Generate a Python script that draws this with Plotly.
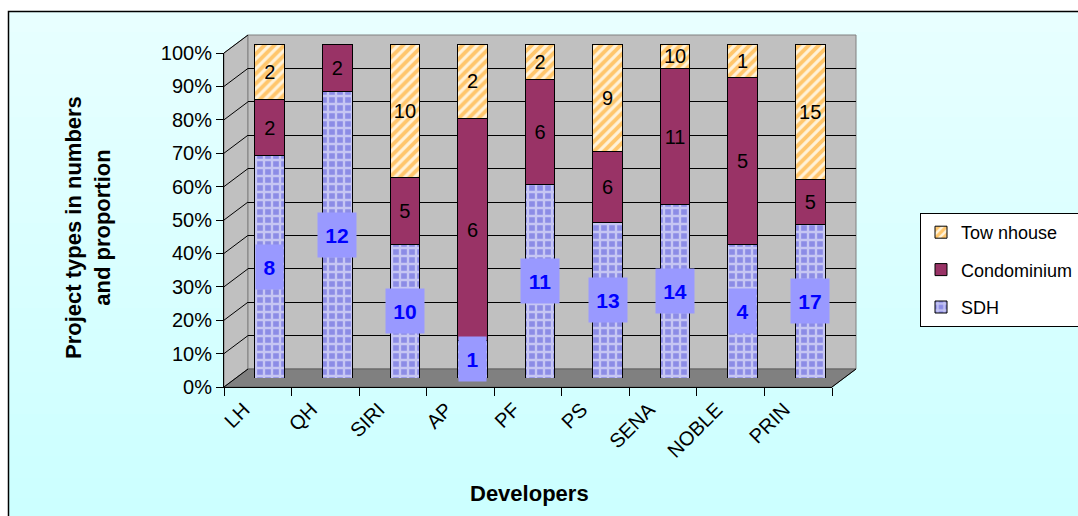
import plotly.graph_objects as go
import numpy as np

# ---------------- data ----------------
developers = ["LH", "QH", "SIRI", "AP", "PF", "PS", "SENA", "NOBLE", "PRIN"]
sdh = [8, 12, 10, 1, 11, 13, 14, 4, 17]
condominium = [2, 2, 5, 6, 6, 6, 11, 5, 5]
townhouse = [2, 0, 10, 2, 2, 9, 2, 1, 15]          # segment heights
townhouse_labels = ["2", "", "10", "2", "2", "9", "10", "1", "15"]  # labels printed on the chart
condominium_labels = ["2", "2", "5", "6", "6", "6", "11", "5", "5"]
sdh_labels = ["8", "12", "10", "1", "11", "13", "14", "4", "17"]
pct_ticks = [0, 10, 20, 30, 40, 50, 60, 70, 80, 90, 100]
pct_ticktext = [f"{t}%" for t in pct_ticks]

# ---------------- geometry (pixels) ----------------
W, H = 1078, 516
FX0, FX1, FY0, FY1 = 224, 832, 387, 53     # front axes box
DX, DY = 24, -18                            # 3-D depth offset
def px(x): return x / W
def py(y): return 1 - y / H

FONT = "Arial, Liberation Sans, sans-serif"

fig = go.Figure()

# dummy traces to create wall subplot (xy) and front-axes subplot (x2y2)
fig.add_trace(go.Scatter(x=[None], y=[None], xaxis="x", yaxis="y",
                         showlegend=False, hoverinfo="skip"))
fig.add_trace(go.Scatter(x=developers, y=[None] * len(developers), xaxis="x2", yaxis="y2",
                         mode="markers", marker=dict(opacity=0),
                         showlegend=False, hoverinfo="skip"))

# bars on x3/y3 (drawn last -> on top)
fig.add_trace(go.Bar(
    x=developers, y=sdh, name="SDH", xaxis="x3", yaxis="y3",
    legendgroup="sdh", legendrank=3,
    marker=dict(color="#8C8CE6", line=dict(color="black", width=1),
                pattern=dict(shape="+", fgcolor="white", bgcolor="#8C8CE6",
                             size=8, solidity=0.5)),
))
fig.add_trace(go.Bar(
    x=developers, y=condominium, name="Condominium", xaxis="x3", yaxis="y3",
    legendgroup="condo", legendrank=2,
    text=condominium_labels, textposition="inside", insidetextanchor="middle",
    textfont=dict(color="black", size=20, family=FONT), textangle=0,
    marker=dict(color="#993366", line=dict(color="black", width=1)),
))
fig.add_trace(go.Bar(
    x=developers, y=townhouse, name="Tow nhouse", xaxis="x3", yaxis="y3",
    legendgroup="town", legendrank=1,
    text=townhouse_labels, textposition="inside", insidetextanchor="middle",
    textfont=dict(color="black", size=20, family=FONT), textangle=0,
    marker=dict(color="#FFF2D9", line=dict(color="black", width=1),
                pattern=dict(shape="/", fgcolor="#FF9900", bgcolor="#FFF2D9",
                             size=7, solidity=0.55)),
))

# ---------------- decorative shapes ----------------
shapes = []
n_strips = 24
top_c = np.array([232, 255, 255]); bot_c = np.array([204, 255, 255])
y_top, y_bot = 11, 520
for i in range(n_strips):
    c = top_c + (bot_c - top_c) * i / (n_strips - 1)
    ya = y_top + (y_bot - y_top) * i / n_strips
    yb = y_top + (y_bot - y_top) * (i + 1) / n_strips + 1
    shapes.append(dict(type="rect", xref="paper", yref="paper", layer="below",
                       x0=px(8), x1=px(1090), y0=py(ya), y1=py(yb),
                       fillcolor=f"rgb({int(c[0])},{int(c[1])},{int(c[2])})",
                       line=dict(width=0)))
shapes.append(dict(type="rect", xref="paper", yref="paper", layer="below",
                   x0=px(8.5), x1=px(1090), y0=py(11.5), y1=py(530),
                   line=dict(color="black", width=1.5)))
# side wall
shapes.append(dict(type="path", xref="paper", yref="paper", layer="below",
                   path=f"M {px(FX0)},{py(FY0)} L {px(FX0)},{py(FY1)} L {px(FX0+DX)},{py(FY1+DY)} "
                        f"L {px(FX0+DX)},{py(FY0+DY)} Z",
                   fillcolor="#C0C0C0", line=dict(color="#808080", width=1)))
# back wall
shapes.append(dict(type="rect", xref="paper", yref="paper", layer="below",
                   x0=px(FX0+DX), x1=px(FX1+DX), y0=py(FY0+DY), y1=py(FY1+DY),
                   fillcolor="#C0C0C0", line=dict(color="#808080", width=1)))
# floor
shapes.append(dict(type="path", xref="paper", yref="paper", layer="below",
                   path=f"M {px(FX0)},{py(FY0)} L {px(FX1)},{py(FY0)} L {px(FX1+DX)},{py(FY0+DY)} "
                        f"L {px(FX0+DX)},{py(FY0+DY)} Z",
                   fillcolor="#808080", line=dict(color="#606060", width=1)))
# diagonal gridlines on side wall
for t in pct_ticks:
    yf = FY0 - (FY0 - FY1) * t / 100
    shapes.append(dict(type="line", xref="paper", yref="paper", layer="below",
                       x0=px(FX0), y0=py(yf), x1=px(FX0+DX), y1=py(yf+DY),
                       line=dict(color="black", width=1)))
shapes.append(dict(type="line", xref="paper", yref="paper", layer="below",
                   x0=px(FX1), y0=py(FY0), x1=px(FX1+DX), y1=py(FY0+DY),
                   line=dict(color="black", width=1)))

# ---------------- annotations ----------------
annotations = []
sdh_arr = np.array(sdh, dtype=float)
tot = sdh_arr + np.array(condominium) + np.array(townhouse)
sdh_mid = sdh_arr / tot * 100 / 2
for d, lab, ym in zip(developers, sdh_labels, sdh_mid):
    annotations.append(dict(xref="x3", yref="y3", x=d, y=ym, text=f"<b>{lab}</b>",
                            showarrow=False, bgcolor="#9999FF",
                            font=dict(color="#0000FF", size=21, family=FONT),
                            width=8 + 11 * len(lab), height=36, borderpad=4))
annotations.append(dict(xref="paper", yref="paper", x=px(88), y=py(228),
                        xanchor="center", yanchor="middle",
                        text="<b>Project types in numbers<br>and proportion</b>",
                        textangle=-90, showarrow=False,
                        font=dict(size=22, color="black", family=FONT)))
annotations.append(dict(xref="paper", yref="paper", x=px(529), y=py(493),
                        xanchor="center", yanchor="middle",
                        text="<b>Developers</b>", showarrow=False,
                        font=dict(size=22, color="black", family=FONT)))

fig.update_layout(
    width=W, height=H, autosize=False,
    margin=dict(l=0, r=0, t=0, b=0, pad=0, autoexpand=False),
    paper_bgcolor="white", plot_bgcolor="rgba(0,0,0,0)",
    font=dict(family=FONT, color="black", size=20),
    barmode="stack", barnorm="percent", bargap=0.56,
    uniformtext=dict(mode="show", minsize=20),
    showlegend=True,
    legend=dict(x=px(920), y=py(213), xanchor="left", yanchor="top",
                bgcolor="white", bordercolor="black", borderwidth=1,
                traceorder="grouped", tracegroupgap=11,
                font=dict(size=18, family=FONT, color="black")),
    # wall gridlines
    xaxis=dict(domain=[px(FX0+DX), px(FX1+DX)], range=[0, 1], visible=False,
               anchor="y", automargin=False),
    yaxis=dict(domain=[py(FY0+DY), py(FY1+DY)], range=[0, 100], tickvals=pct_ticks,
               showgrid=True, gridcolor="black", gridwidth=1, showticklabels=False,
               zeroline=False, showline=False, ticks="", anchor="x", automargin=False),
    # front axes
    xaxis2=dict(domain=[px(FX0), px(FX1)], type="category", categoryorder="array",
                categoryarray=developers, range=[-0.5, len(developers) - 0.5],
                tickson="boundaries", ticks="outside", ticklen=8, tickcolor="black",
                tickangle=-45, ticklabelshift=-14, ticklabelstandoff=2,
                showline=True, linecolor="black", linewidth=1,
                showgrid=False, zeroline=False, anchor="y2", automargin=False,
                tickfont=dict(size=20, family=FONT, color="black")),
    yaxis2=dict(domain=[py(FY0), py(FY1)], range=[0, 100], tickvals=pct_ticks,
                ticktext=pct_ticktext, ticks="outside", ticklen=7, tickcolor="black",
                showline=True, linecolor="black", linewidth=1, showgrid=False,
                zeroline=False, anchor="x2", automargin=False,
                tickfont=dict(size=20, family=FONT, color="black")),
    # bars
    xaxis3=dict(domain=[px(FX0+DX/2), px(FX1+DX/2)], type="category",
                categoryorder="array", categoryarray=developers,
                range=[-0.5, len(developers) - 0.5], visible=False, anchor="y3",
                automargin=False),
    yaxis3=dict(domain=[py(FY0+DY/2), py(FY1+DY/2)], range=[0, 100],
                visible=False, anchor="x3", automargin=False),
    shapes=shapes,
    annotations=annotations,
)

fig.write_html("out.html", config={"displayModeBar": False},
               post_script="document.body.style.margin='0';document.body.style.overflow='hidden';")
